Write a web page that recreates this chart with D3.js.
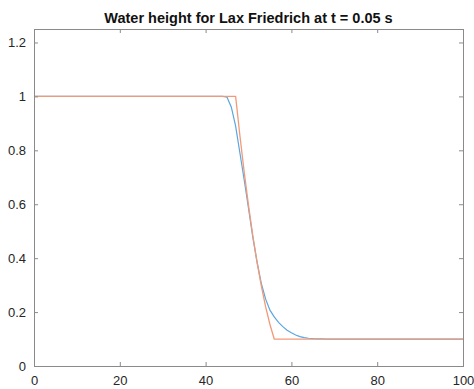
<!DOCTYPE html>
<html>
<head>
<meta charset="utf-8">
<script src="https://cdn.jsdelivr.net/npm/d3@7"></script>
<style>
  html, body { margin: 0; padding: 0; background: #fff; }
  svg { display: block; font-family: Arial, "Liberation Sans", Helvetica, sans-serif; }
</style>
</head>
<body>
<svg id="chart" width="474" height="389"></svg>
<script>
// Grid positions (dx = 1) and water heights at t = 0.05 s
const xGrid = d3.range(0, 101);

// Lax-Friedrichs numerical solution: values where it departs from the two plateaus
const laxIdx    = [45,    46,   47,   48,   49,   50,    51,    52,    53,    54,    55,    56,    57,    58,    59,    60,    61,    62,    63,    64,    65,     66,     67];
const laxHeight = [0.997, 0.96, 0.89, 0.79, 0.69, 0.585, 0.478, 0.385, 0.305, 0.248, 0.207, 0.182, 0.162, 0.146, 0.133, 0.123, 0.115, 0.109, 0.105, 0.103, 0.1015, 0.1008, 0.1003];

// Reference (exact) solution through the rarefaction fan
const exactIdx    = [47, 48,    49,    50,    51,    52,    53,    54,    55,    56];
const exactHeight = [1,  0.854, 0.719, 0.596, 0.484, 0.384, 0.296, 0.219, 0.154, 0.1];

const leftHeight = 1;
const rightHeight = 0.1;

const xTicks = [0, 20, 40, 60, 80, 100];
const yTicks = [0, 0.2, 0.4, 0.6, 0.8, 1, 1.2];
const titleText = "Water height for Lax Friedrich at t = 0.05 s";

function buildSeries(idx, vals) {
  return xGrid.map(x => {
    const k = idx.indexOf(x);
    if (k >= 0) return { x, h: vals[k] };
    return { x, h: x < idx[0] ? leftHeight : rightHeight };
  });
}
const laxSeries = buildSeries(laxIdx, laxHeight);
const exactSeries = buildSeries(exactIdx, exactHeight);

const svg = d3.select("#chart");
const plot = { left: 34, right: 463, top: 29, bottom: 366 };

const x = d3.scaleLinear().domain([0, 100]).range([plot.left, plot.right]);
const y = d3.scaleLinear().domain([0, 1.25]).range([plot.bottom, plot.top]);

const axisColor = "#8a8a8a";
const textColor = "#262626";
const tickLen = 4;

// Curves
const line = d3.line().x(d => x(d.x)).y(d => y(d.h));
svg.append("path").datum(laxSeries)
  .attr("d", line).attr("fill", "none")
  .attr("stroke", "#5aa6e0").attr("stroke-width", 1.2);
svg.append("path").datum(exactSeries)
  .attr("d", line).attr("fill", "none")
  .attr("stroke", "#f29a78").attr("stroke-width", 1.3);

// Axes with inward ticks on all four sides
function styleAxis(g) {
  g.selectAll(".domain").remove();
  g.selectAll(".tick line").attr("stroke", axisColor).attr("stroke-width", 1);
  g.selectAll(".tick text").attr("fill", textColor).attr("font-size", 13);
}

svg.append("g").attr("transform", `translate(0,${plot.bottom})`)
  .call(d3.axisBottom(x).tickValues(xTicks).tickSizeInner(-tickLen).tickSizeOuter(0).tickPadding(10).tickFormat(d3.format("d")))
  .call(styleAxis);
svg.append("g").attr("transform", `translate(0,${plot.top})`)
  .call(d3.axisTop(x).tickValues(xTicks).tickSizeInner(-tickLen).tickSizeOuter(0).tickFormat(""))
  .call(styleAxis);
svg.append("g").attr("transform", `translate(${plot.left},0)`)
  .call(d3.axisLeft(y).tickValues(yTicks).tickSizeInner(-tickLen).tickSizeOuter(0).tickPadding(8).tickFormat(d => d3.format("")(d)))
  .call(styleAxis);
svg.append("g").attr("transform", `translate(${plot.right},0)`)
  .call(d3.axisRight(y).tickValues(yTicks).tickSizeInner(-tickLen).tickSizeOuter(0).tickFormat(""))
  .call(styleAxis);

// Axes box
svg.append("rect")
  .attr("x", plot.left + 0.5).attr("y", plot.top + 0.5)
  .attr("width", plot.right - plot.left).attr("height", plot.bottom - plot.top)
  .attr("fill", "none").attr("stroke", axisColor).attr("stroke-width", 1);

// Title
svg.append("text")
  .attr("x", (plot.left + plot.right) / 2).attr("y", 23)
  .attr("text-anchor", "middle")
  .attr("font-size", 14.5).attr("font-weight", "bold").attr("fill", "#111")
  .text(titleText);
</script>
</body>
</html>
